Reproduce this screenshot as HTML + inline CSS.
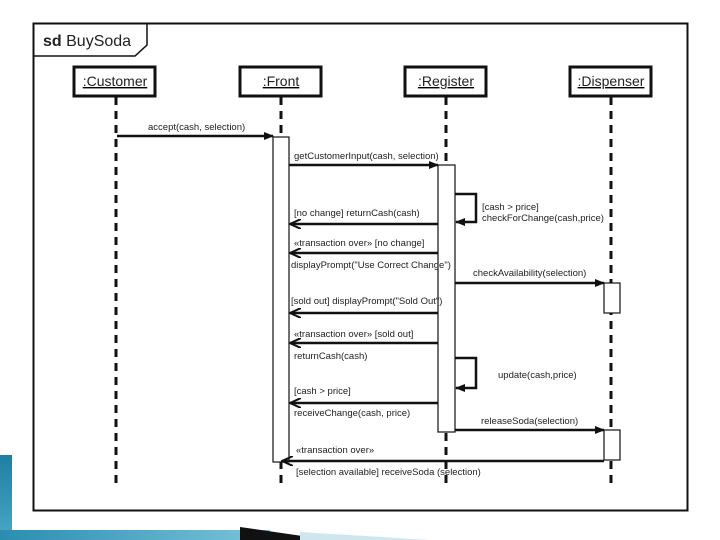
<!DOCTYPE html>
<html><head><style>
html,body{margin:0;padding:0;background:#fff;width:720px;height:540px;overflow:hidden}
svg text{font-family:"Liberation Sans",Arial,sans-serif;fill:#222}
</style></head><body>
<svg width="720" height="540" viewBox="0 0 720 540" xmlns="http://www.w3.org/2000/svg">
<defs>
<marker id="a" markerWidth="10" markerHeight="8" refX="9" refY="4" orient="auto" markerUnits="userSpaceOnUse"><path d="M0,0 L10,4 L0,8 Z" fill="#111"/></marker>
<marker id="o" markerWidth="12" markerHeight="10" refX="11" refY="5" orient="auto" markerUnits="userSpaceOnUse"><path d="M0,0 L11,5 L0,10" fill="none" stroke="#111" stroke-width="2"/></marker>
<linearGradient id="g1" x1="0" x2="0" y1="0" y2="1"><stop offset="0" stop-color="#1e7fa0"/><stop offset="1" stop-color="#4aa8c8"/></linearGradient>
<linearGradient id="g2" x1="0" x2="1"><stop offset="0" stop-color="#2a8db0"/><stop offset="1" stop-color="#7cc4dc"/></linearGradient>
</defs>
<!-- decoration -->
<rect x="0" y="455" width="12" height="85" fill="url(#g1)"/>
<rect x="0" y="530" width="270" height="10" fill="url(#g2)"/>
<polygon points="240,527 330,540 240,540" fill="#111"/>
<polygon points="300,532 430,540 300,540" fill="#cfe6ef"/>
<!-- frame -->
<rect x="33.5" y="23.5" width="654" height="487" fill="none" stroke="#111" stroke-width="2"/>
<path d="M33.5,56 H135 L147,45 V23.5" fill="none" stroke="#111" stroke-width="1.5"/>
<text x="43" y="46" font-size="16"><tspan font-weight="bold">sd</tspan> BuySoda</text>
<!-- lifelines -->
<g stroke="#111" stroke-width="3" stroke-dasharray="8,6">
<line x1="116" y1="97" x2="116" y2="487"/>
<line x1="281" y1="97" x2="281" y2="487"/>
<line x1="446" y1="97" x2="446" y2="487"/>
<line x1="611" y1="97" x2="611" y2="487"/>
</g>
<g fill="#fff" stroke="#111" stroke-width="3">
<rect x="74" y="67" width="81" height="29"/>
<rect x="240" y="67" width="81" height="29"/>
<rect x="405" y="67" width="81" height="29"/>
<rect x="570" y="67" width="81" height="29"/>
</g>
<g font-size="14" text-anchor="middle" text-decoration="underline">
<text x="115" y="86">:Customer</text>
<text x="281" y="86">:Front</text>
<text x="446" y="86">:Register</text>
<text x="611" y="86">:Dispenser</text>
</g>
<!-- activations -->
<g fill="#fff" stroke="#111" stroke-width="1.2">
<rect x="273" y="137" width="16" height="325"/>
<rect x="438" y="165" width="17" height="267"/>
<rect x="604" y="283" width="16" height="30"/>
<rect x="604" y="430" width="16" height="30"/>
</g>
<!-- messages -->
<g stroke="#111" stroke-width="2.5" fill="none">
<line x1="117" y1="136" x2="273" y2="136" marker-end="url(#a)"/>
<line x1="289" y1="165" x2="438" y2="165" marker-end="url(#a)"/>
<path d="M455,194 H476 V222 H456" marker-end="url(#a)"/>
<line x1="438" y1="224" x2="290" y2="224" marker-end="url(#o)"/>
<line x1="438" y1="253" x2="290" y2="253" marker-end="url(#o)"/>
<line x1="455" y1="283" x2="604" y2="283" marker-end="url(#a)"/>
<line x1="438" y1="313" x2="290" y2="313" marker-end="url(#o)"/>
<line x1="438" y1="343" x2="290" y2="343" marker-end="url(#o)"/>
<path d="M455,358 H476 V388 H456" marker-end="url(#a)"/>
<line x1="438" y1="403" x2="290" y2="403" marker-end="url(#o)"/>
<line x1="455" y1="430" x2="604" y2="430" marker-end="url(#a)"/>
<line x1="604" y1="461" x2="282" y2="461" marker-end="url(#o)"/>
</g>
<g font-size="9.5">
<text x="148" y="130">accept(cash, selection)</text>
<text x="294" y="159">getCustomerInput(cash, selection)</text>
<text x="482" y="210">[cash &gt; price]</text>
<text x="482" y="221">checkForChange(cash,price)</text>
<text x="294" y="216">[no change] returnCash(cash)</text>
<text x="294" y="246">«transaction over» [no change]</text>
<text x="291" y="268">displayPrompt("Use Correct Change")</text>
<text x="473" y="276">checkAvailability(selection)</text>
<text x="291" y="304">[sold out] displayPrompt("Sold Out")</text>
<text x="294" y="337">«transaction over» [sold out]</text>
<text x="294" y="359">returnCash(cash)</text>
<text x="498" y="378">update(cash,price)</text>
<text x="294" y="394">[cash &gt; price]</text>
<text x="294" y="416">receiveChange(cash, price)</text>
<text x="481" y="424">releaseSoda(selection)</text>
<text x="296" y="453">«transaction over»</text>
<text x="296" y="475">[selection available] receiveSoda (selection)</text>
</g>
</svg>
</body></html>
